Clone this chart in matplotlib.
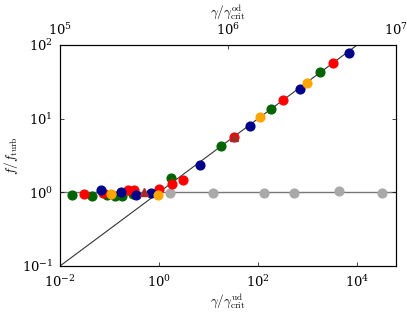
import numpy as np
import matplotlib
matplotlib.use('Agg')
import matplotlib.pyplot as plt

plt.rcParams['mathtext.fontset'] = 'cm'
plt.rcParams['font.family'] = 'serif'
plt.rcParams['font.serif'] = ['DejaVu Serif']

# data
green_x = [0.0172, 0.0437, 0.0877, 0.129, 0.176, 0.303, 1.75, 17.6, 181, 1814]
green_y = [0.93, 0.89, 0.93, 0.90, 0.89, 0.95, 1.57, 4.30, 13.5, 43.4]
red_x = [0.031, 0.074, 0.233, 0.317, 1.0, 1.81, 3.10, 32.7, 324, 3275]
red_y = [0.96, 0.97, 1.06, 1.09, 1.10, 1.28, 1.49, 5.63, 17.7, 56.8]
blue_x = [0.0673, 0.171, 0.338, 0.69, 6.73, 68.9, 705, 6985]
blue_y = [1.06, 1.00, 0.91, 0.98, 2.32, 8.04, 25.0, 78.6]
orange_x = [0.1057, 0.94, 107, 990]
orange_y = [0.96, 0.91, 10.5, 30.4]
brown_x = [0.50, 32.7]
brown_y = [1.01, 5.63]
gray_x = [1.67, 12.5, 132, 533, 4325, 32400]
gray_y = [0.99, 0.99, 0.99, 0.99, 1.03, 0.99]

xlo, xhi = 1e-2, 6.1e4
fs = 9.5

fig = plt.figure(figsize=(4.07, 3.12), dpi=100)
ax = fig.add_axes([0.1474, 0.1474, 0.8256, 0.7084])

xx = np.logspace(np.log10(xlo), np.log10(xhi), 50)
ax.plot(xx, np.sqrt(xx), color='#333333', lw=0.8, zorder=1)
ax.axhline(1, color='#777777', lw=1.0, zorder=1)

ms = 6.3
ax.plot(gray_x, gray_y, 'o', color='#a9a9a9', ms=ms, zorder=2)
ax.plot(green_x, green_y, 'o', color='#006400', ms=ms, zorder=3)
ax.plot(red_x, red_y, 'o', color='#ff0000', ms=ms, zorder=3)
ax.plot(blue_x, blue_y, 'o', color='#00008b', ms=ms, zorder=3)
ax.plot(orange_x, orange_y, 'o', color='#ffa500', ms=ms, zorder=3)
ax.plot(brown_x, brown_y, '^', color='#a52a2a', ms=ms - 1, zorder=4)

ax.set_xscale('log')
ax.set_yscale('log')
ax.set_xlim(xlo, xhi)
ax.set_ylim(1e-1, 1e2)
ax.set_xticks([1e-2, 1e0, 1e2, 1e4])
ax.set_yticks([1e-1, 1e0, 1e1, 1e2])
ax.minorticks_off()
ax.tick_params(direction='in', labelsize=fs, right=True, length=3, width=0.5)
ax.tick_params(axis='x', pad=6)
ax.tick_params(axis='y', pad=5)
ax.set_xlabel(r'$\gamma/\gamma^{\rm ud}_{\rm crit}$', fontsize=fs, labelpad=1)
ax.set_ylabel(r'$f/f_{\rm turb}$', fontsize=fs, labelpad=1)
for s in ax.spines.values():
    s.set_linewidth(0.8)

ax2 = ax.twiny()
ax2.set_xscale('log')
ax2.set_xlim(1e5, 1e7)
ax2.set_xticks([1e5, 1e6, 1e7])
ax2.minorticks_off()
ax2.tick_params(direction='in', labelsize=fs, length=3, width=0.5, pad=5)
ax2.set_xlabel(r'$\gamma/\gamma^{\rm od}_{\rm crit}$', fontsize=fs, labelpad=5)

fig.savefig('out.png', dpi=100)
